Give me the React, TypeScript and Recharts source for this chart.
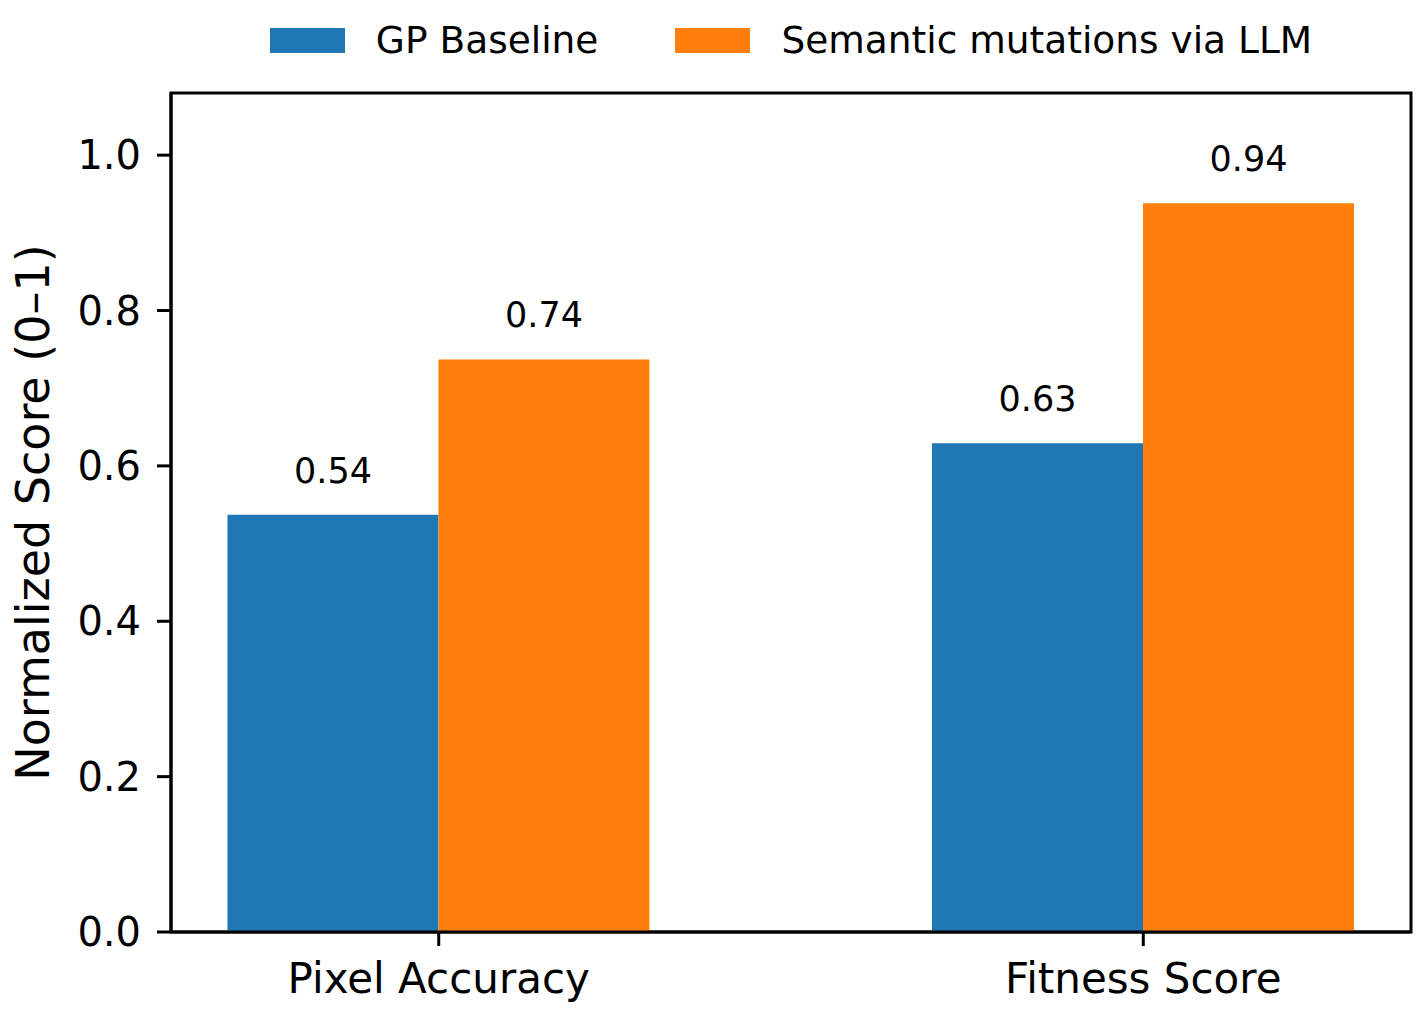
import React from 'react';
import { BarChart, Bar, XAxis, YAxis, Legend, LabelList, ReferenceArea } from 'recharts';

const categories = ['Pixel Accuracy', 'Fitness Score'];
const gpBaseline = [0.537, 0.629];
const semanticLLM = [0.737, 0.938];
const yTicks = [0, 0.2, 0.4, 0.6, 0.8, 1.0];

const series = [
  { key: 'gp', name: 'GP Baseline', color: '#1f77b4' },
  { key: 'llm', name: 'Semantic mutations via LLM', color: '#ff7f0e' },
];

const data = categories.map((name, i) => ({
  x: i,
  name,
  gp: gpBaseline[i],
  llm: semanticLLM[i],
}));

const FONT = '"DejaVu Sans", sans-serif';

function LegendBox() {
  return (
    <div style={{ height: 60, display: 'flex', justifyContent: 'center', alignItems: 'center', fontFamily: FONT, fontSize: 37.5, color: '#000' }}>
      {series.map((s, i) => (
        <div key={s.key} style={{ display: 'flex', alignItems: 'center', marginLeft: i === 0 ? 0 : 77 }}>
          <span style={{ width: 75, height: 25, background: s.color, display: 'inline-block', marginRight: 31 }} />
          <span style={{ lineHeight: '60px', whiteSpace: 'nowrap' }}>{s.name}</span>
        </div>
      ))}
    </div>
  );
}

export default function App() {
  return (
    <div style={{ position: 'absolute', left: 0, top: 0, background: '#fff' }}>
      <BarChart
        width={1424}
        height={1013}
        data={data}
        barGap={0}
        margin={{ top: 33, right: 13, bottom: 0, left: 0 }}
      >
        <Legend
          verticalAlign="top"
          align="center"
          content={() => <LegendBox />}
          wrapperStyle={{ top: 10, left: 171, width: 1240 }}
        />
        <XAxis
          dataKey="x"
          type="number"
          domain={[-0.38, 1.38]}
          ticks={[0, 1]}
          allowDataOverflow
          tickFormatter={(v: number) => categories[v] ?? ''}
          height={81}
          tickSize={14}
          tickMargin={17}
          axisLine={{ stroke: '#000', strokeWidth: 3 }}
          tickLine={{ stroke: '#000', strokeWidth: 3 }}
          tick={{ fill: '#000', fontSize: 42, fontFamily: FONT }}
        />
        <YAxis
          type="number"
          domain={[0, 1.08]}
          ticks={yTicks}
          allowDataOverflow
          tickFormatter={(v: number) => v.toFixed(1)}
          width={171}
          tickSize={14}
          tickMargin={16}
          axisLine={{ stroke: '#000', strokeWidth: 3 }}
          tickLine={{ stroke: '#000', strokeWidth: 3 }}
          tick={{ fill: '#000', fontSize: 40, fontFamily: FONT }}
          label={{
            value: 'Normalized Score (0–1)',
            angle: -90,
            position: 'insideLeft',
            offset: 33,
            style: { textAnchor: 'middle', fill: '#000', fontSize: 46, fontFamily: FONT },
          }}
        />
        {series.map((s) => (
          <Bar key={s.key} dataKey={s.key} name={s.name} fill={s.color} barSize={211} isAnimationActive={false}>
            <LabelList
              dataKey={s.key}
              position="top"
              offset={32}
              formatter={(v: number) => v.toFixed(2)}
              style={{ fill: '#000', fontSize: 35, fontFamily: FONT }}
            />
          </Bar>
        ))}
        <ReferenceArea x1={-0.38} x2={1.38} y1={0} y2={1.08} fill="none" stroke="#000" strokeWidth={3} ifOverflow="visible" />
      </BarChart>
    </div>
  );
}
